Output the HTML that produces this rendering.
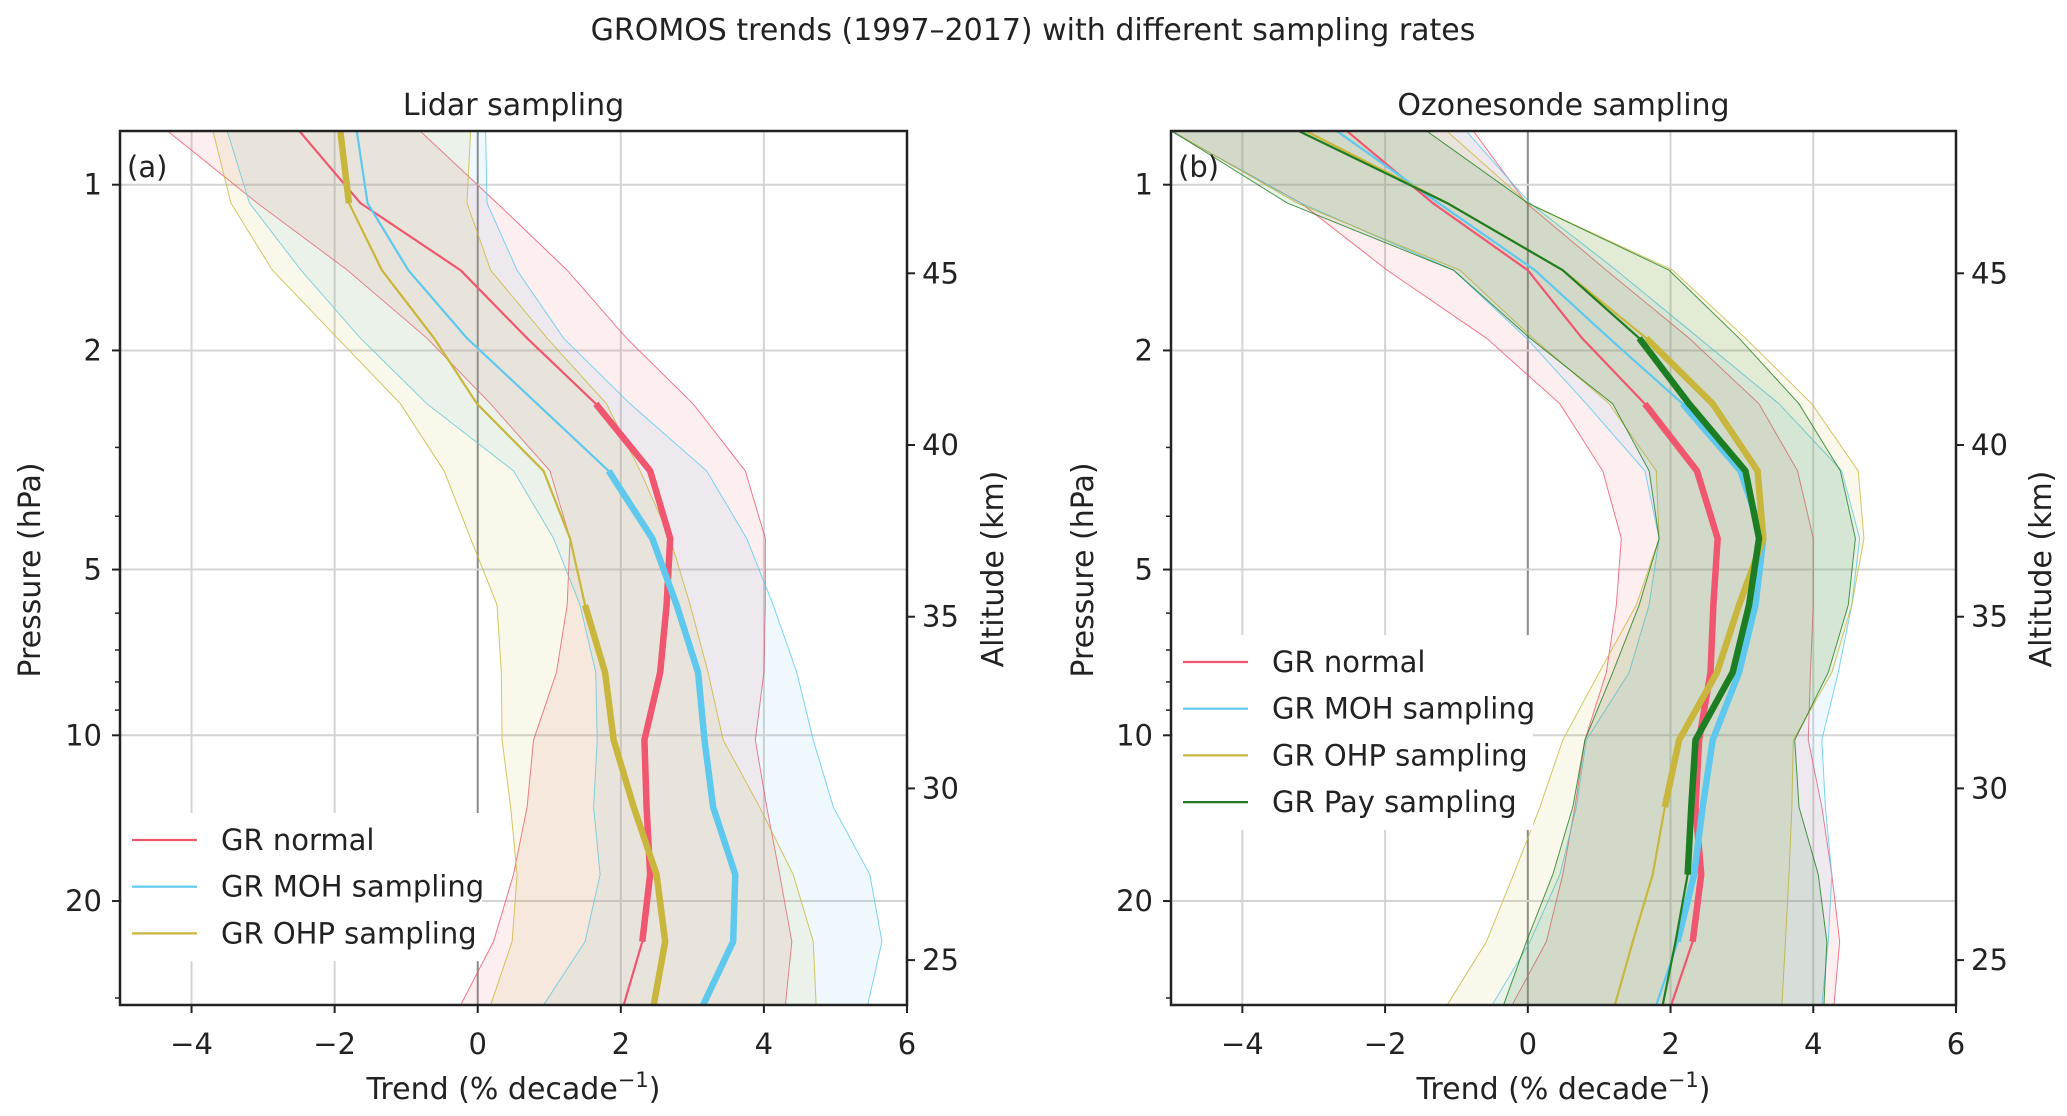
<!DOCTYPE html>
<html><head><meta charset="utf-8"><style>
html,body{margin:0;padding:0;background:#fff}
svg{display:block;font-family:"DejaVu Sans","Liberation Sans",sans-serif}
</style></head><body>
<svg id="fig" width="2067" height="1116" viewBox="0 0 2067 1116" xmlns="http://www.w3.org/2000/svg">
<rect width="2067" height="1116" fill="#fff"/>
<text x="1033" y="40" font-size="30" text-anchor="middle" fill="#222">GROMOS trends (1997–2017) with different sampling rates</text>
</svg>
<script>
// ---- data ----
const pressures = [0.80,1.08,1.43,1.90,2.50,3.31,4.39,5.80,7.69,10.2,13.5,17.9,23.7,30.9];
const xTicks = [-4,-2,0,2,4,6];
const pTicks = [1,2,5,10,20];
const pMinor = [3,4,6,7,8,9,30];
const altTicks = [25,30,35,40,45];

// Lidar panel
const aNormal = [-2.49,-1.64,-0.24,0.69,1.65,2.41,2.69,2.64,2.55,2.33,2.36,2.41,2.30,2.04];
const aNormalLo = [-4.33,-3.08,-1.82,-0.71,0.18,1.01,1.29,1.25,1.10,0.78,0.69,0.50,0.22,-0.24];
const aNormalHi = [-0.80,0.27,1.25,2.08,3.01,3.74,4.02,4.02,4.00,3.88,4.04,4.22,4.39,4.30];
const aMoh = [-1.69,-1.54,-0.97,-0.15,0.83,1.83,2.44,2.78,3.08,3.17,3.29,3.60,3.57,3.15];
const aMohLo = [-3.50,-3.19,-2.47,-1.64,-0.71,0.50,1.06,1.43,1.65,1.67,1.62,1.71,1.50,0.92];
const aMohHi = [0.11,0.13,0.55,1.20,2.13,3.20,3.76,4.13,4.46,4.69,4.97,5.48,5.65,5.45];
const aOhp = [-1.92,-1.80,-1.34,-0.61,-0.01,0.92,1.29,1.50,1.78,1.90,2.18,2.50,2.62,2.46];
const aOhpLo = [-3.70,-3.45,-2.87,-1.96,-1.08,-0.47,-0.10,0.27,0.33,0.34,0.46,0.55,0.48,0.18];
const aOhpHi = [-0.10,-0.15,0.18,0.97,1.80,2.27,2.69,2.97,3.22,3.43,3.94,4.41,4.69,4.73];

// Ozonesonde panel
const bNormal = [-2.53,-1.33,0.00,0.76,1.64,2.37,2.66,2.60,2.56,2.40,2.35,2.43,2.31,2.01];
const bNormalLo = [-5.00,-3.18,-1.97,-0.58,0.45,1.05,1.31,1.24,1.10,0.80,0.66,0.49,0.26,-0.22];
const bNormalHi = [-0.76,-0.02,1.10,2.26,3.24,3.78,4.00,4.00,3.96,3.93,4.12,4.26,4.37,4.29];
const bMoh = [-2.67,-1.25,0.10,1.14,2.17,2.98,3.30,3.19,2.96,2.59,2.45,2.33,2.10,1.80];
const bMohLo = [-5.00,-3.18,-1.04,-0.02,0.82,1.64,1.84,1.70,1.42,0.82,0.68,0.45,0.03,-0.50];
const bMohHi = [-0.86,0.03,1.24,2.40,3.52,4.40,4.65,4.54,4.35,4.12,4.17,4.26,4.21,4.12];
const bOhp = [-3.10,-1.13,0.49,1.66,2.59,3.22,3.30,2.96,2.65,2.12,1.92,1.75,1.47,1.22];
const bOhpLo = [-4.98,-3.23,-0.95,0.07,1.14,1.80,1.84,1.52,1.00,0.49,0.17,-0.20,-0.58,-1.13];
const bOhpHi = [-1.13,0.00,2.03,3.05,3.98,4.63,4.71,4.54,4.26,3.72,3.70,3.66,3.61,3.56];
const bPay = [-3.20,-1.13,0.49,1.56,2.26,3.05,3.24,3.10,2.87,2.35,2.29,2.24,2.07,1.89];
const bPayLo = [-4.98,-3.37,-1.04,0.03,1.19,1.70,1.84,1.56,1.19,0.80,0.63,0.35,-0.02,-0.34];
const bPayHi = [-1.41,0.00,1.98,2.96,3.80,4.38,4.59,4.49,4.21,3.74,3.80,4.07,4.19,4.15];

const NS="http://www.w3.org/2000/svg";
const svg=document.getElementById('fig');
function mk(tag,attrs,parent){const e=document.createElementNS(NS,tag);for(const k in attrs)e.setAttribute(k,attrs[k]);(parent||svg).appendChild(e);return e;}

const C={red:'#f0566f',blue:'#5ec8ee',yellow:'#c9b63c',green:'#1d7d22'};

function panel(cfg){
  const L=cfg.left,R=cfg.right,T=131,B=1005;
  const xs=v=>L+(v+5)*(R-L)/11;
  const ys=p=>184.7+Math.log10(p)*550.6;
  const ya=a=>273.3+(45-a)*34.34;
  const g=mk('g',{});
  
  
  const clipId='clip'+cfg.name;
  const cp=mk('clipPath',{id:clipId},g);mk('rect',{x:L,y:T,width:R-L,height:B-T},cp);
  xTicks.forEach(t=>{const l=mk('line',{x1:xs(t),x2:xs(t),y1:T,y2:B,stroke:t===0?'#8a8a8a':'#d4d4d4','stroke-width':2},g);
    });
  pTicks.forEach(p=>{const l=mk('line',{x1:L,x2:R,y1:ys(p),y2:ys(p),stroke:'#d4d4d4','stroke-width':2},g);
    });
  const pg=mk('g',{'clip-path':`url(#${clipId})`},g);
  cfg.series.forEach(s=>{
    let d='M'+s.lo.map((v,i)=>xs(v)+','+ys(pressures[i])).join('L');
    d+='L'+s.hi.map((v,i)=>xs(v)+','+ys(pressures[i])).reverse().join('L')+'Z';
    const b=mk('path',{d:d,fill:s.c,'fill-opacity':0.1,stroke:'none'},pg);
    
    [s.lo,s.hi].forEach(arr=>{const e=mk('polyline',{points:arr.map((v,i)=>xs(v)+','+ys(pressures[i])).join(' '),fill:'none',stroke:s.c,'stroke-width':1,'stroke-opacity':0.8},pg);
      });
  });
  cfg.series.forEach(s=>{
    const ln=mk('polyline',{points:s.v.map((v,i)=>xs(v)+','+ys(pressures[i])).join(' '),fill:'none',stroke:s.c,'stroke-width':2.2},pg);
    
    s.thick.forEach(r=>{
      const pts=[];for(let i=r[0];i<=r[1];i++)pts.push(xs(s.v[i])+','+ys(pressures[i]));
      const th=mk('polyline',{points:pts.join(' '),fill:'none',stroke:s.c,'stroke-width':6.5,'stroke-linejoin':'round'},pg);
      
    });
  });
  const lg=mk('g',{},g);
  mk('rect',{x:L+2,y:cfg.legY-27,width:cfg.legW,height:cfg.series.length*46.7+8,fill:'#fff'},lg);
  cfg.series.forEach((s,i)=>{
    const y=cfg.legY+i*46.7;
    const e=mk('g',{},lg);
    mk('line',{x1:L+12,x2:L+77,y1:y,y2:y,stroke:s.c,'stroke-width':2.2},e);
    const t=mk('text',{x:L+101,y:y+10,'font-size':29,fill:'#222'},e);t.textContent=s.label;
  });
  const sp=mk('rect',{x:L,y:T,width:R-L,height:B-T,fill:'none',stroke:'#222','stroke-width':2.5},g);
  
  xTicks.forEach(t=>{mk('line',{x1:xs(t),x2:xs(t),y1:B,y2:B+8,stroke:'#222','stroke-width':2},g);
    const tx=mk('text',{x:xs(t),y:1054,'font-size':29,'text-anchor':'middle',fill:'#222'},g);
    
    tx.textContent=(t<0?'\u2212'+(-t):String(t));});
  pTicks.forEach(p=>{mk('line',{x1:L-8,x2:L,y1:ys(p),y2:ys(p),stroke:'#222','stroke-width':2},g);
    const tx=mk('text',{x:L-18,y:ys(p)+10,'font-size':29,'text-anchor':'end',fill:'#222'},g);
    tx.textContent=p;});
  pMinor.forEach(p=>{if(ys(p)<=B)mk('line',{x1:L-5,x2:L,y1:ys(p),y2:ys(p),stroke:'#222','stroke-width':1.5},g);});
  altTicks.forEach(a=>{mk('line',{x1:R,x2:R+8,y1:ya(a),y2:ya(a),stroke:'#222','stroke-width':2},g);
    const tx=mk('text',{x:R+15,y:ya(a)+10,'font-size':29,fill:'#222'},g);
    tx.textContent=a;});
  const xt=mk('text',{x:(L+R)/2,y:1099,'font-size':30,'text-anchor':'middle',fill:'#222'},g);
  
  xt.innerHTML='Trend (% decade<tspan dy="-12" font-size="21">\u22121</tspan><tspan dy="12">)</tspan>';
  const yl=mk('text',{x:cfg.ylx,y:570,'font-size':30,'text-anchor':'middle',fill:'#222',transform:`rotate(-90 ${cfg.ylx} 570)`},g);
  yl.textContent='Pressure (hPa)';
  const yr=mk('text',{x:cfg.yrx,y:569,'font-size':30,'text-anchor':'middle',fill:'#222',transform:`rotate(-90 ${cfg.yrx} 569)`},g);
  yr.textContent='Altitude (km)';
  const ti=mk('text',{x:(L+R)/2,y:115,'font-size':30,'text-anchor':'middle',fill:'#222'},g);
  ti.textContent=cfg.title;
  const pl=mk('text',{x:L+7,y:177,'font-size':29,fill:'#222'},g);
  pl.textContent=cfg.tag;
}

panel({name:'lidar-panel',left:120,right:907,title:'Lidar sampling',tag:'(a)',ylx:40,yrx:1003,legY:840,legW:360,
  series:[
    {key:'gr-normal',label:'GR normal',c:C.red,v:aNormal,lo:aNormalLo,hi:aNormalHi,thick:[[4,12]]},
    {key:'gr-moh',label:'GR MOH sampling',c:C.blue,v:aMoh,lo:aMohLo,hi:aMohHi,thick:[[5,13]]},
    {key:'gr-ohp',label:'GR OHP sampling',c:C.yellow,v:aOhp,lo:aOhpLo,hi:aOhpHi,thick:[[0,1],[7,13]]}
  ]});
panel({name:'ozonesonde-panel',left:1171,right:1956,title:'Ozonesonde sampling',tag:'(b)',ylx:1093,yrx:2051,legY:662,legW:360,
  series:[
    {key:'gr-normal',label:'GR normal',c:C.red,v:bNormal,lo:bNormalLo,hi:bNormalHi,thick:[[4,12]]},
    {key:'gr-moh',label:'GR MOH sampling',c:C.blue,v:bMoh,lo:bMohLo,hi:bMohHi,thick:[[4,12]]},
    {key:'gr-ohp',label:'GR OHP sampling',c:C.yellow,v:bOhp,lo:bOhpLo,hi:bOhpHi,thick:[[3,10]]},
    {key:'gr-pay',label:'GR Pay sampling',c:C.green,v:bPay,lo:bPayLo,hi:bPayHi,thick:[[3,11]]}
  ]});
</script>
</body></html>
